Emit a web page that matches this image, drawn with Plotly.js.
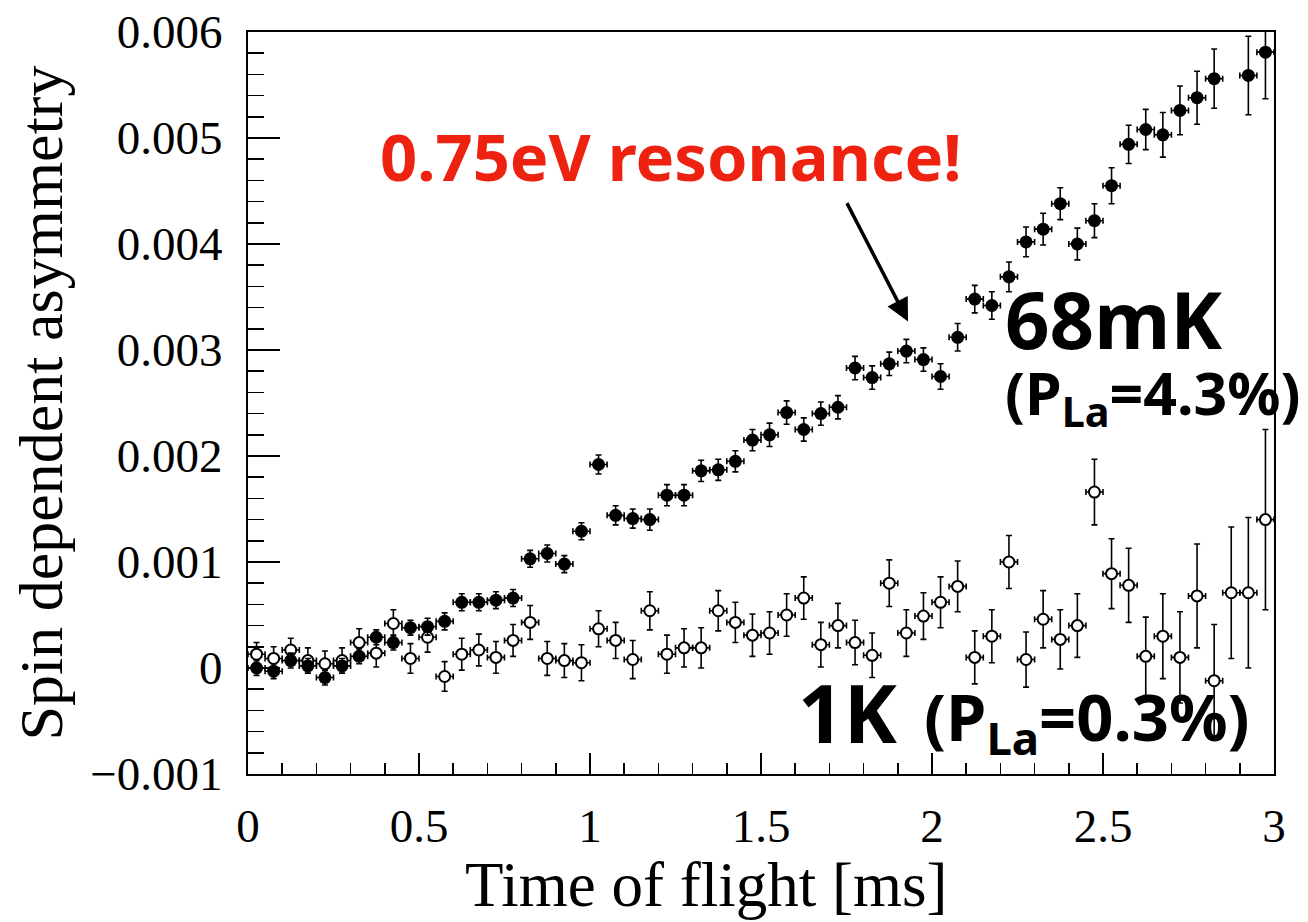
<!DOCTYPE html>
<html>
<head>
<meta charset="utf-8">
<script src="https://cdn.plot.ly/plotly-3.0.1.min.js"></script>
<style>html,body{margin:0;padding:0;background:#fff;}#chart{width:1308px;height:922px;}</style>
</head>
<body>
<div id="chart"></div>
<script>
// Time-of-flight bin centres [ms]
const tof = [0.025,0.075,0.125,0.175,0.225,0.275,0.325,0.375,0.425,0.475,
             0.525,0.575,0.625,0.675,0.725,0.775,0.825,0.875,0.925,0.975,
             1.025,1.075,1.125,1.175,1.225,1.275,1.325,1.375,1.425,1.475,
             1.525,1.575,1.625,1.675,1.725,1.775,1.825,1.875,1.925,1.975,
             2.025,2.075,2.125,2.175,2.225,2.275,2.325,2.375,2.425,2.475,
             2.525,2.575,2.625,2.675,2.725,2.775,2.825,2.875,2.925,2.975];
const binHalfWidth = 0.025;

// 68 mK (filled circles)
const asym68mK = [0.0,-0.00003,0.00007,0.00002,-0.00009,0.00002,0.00011,0.00029,0.00024,0.00038,
                  0.00039,0.00044,0.00062,0.00062,0.00064,0.00066,0.00103,0.00108,0.00098,0.00129,
                  0.00192,0.00144,0.00141,0.00140,0.00163,0.00163,0.00186,0.00187,0.00195,0.00215,
                  0.00220,0.00241,0.00225,0.00240,0.00246,0.00283,0.00274,0.00287,0.00299,0.00291,
                  0.00275,0.00312,0.00348,0.00342,0.00369,0.00402,0.00414,0.00438,0.00400,0.00422,
                  0.00455,0.00494,0.00508,0.00503,0.00526,0.00538,0.00556,null,0.00559,0.00581];
const err68mK = [0.00007,0.00007,0.00007,0.00007,0.00007,0.00007,0.00007,0.00007,0.00007,0.00007,
                 0.00008,0.00008,0.00008,0.00008,0.00008,0.00008,0.00008,0.00008,0.00008,0.00008,
                 0.00009,0.00009,0.00009,0.0001,0.0001,0.0001,0.0001,0.0001,0.0001,0.0001,
                 0.00011,0.00011,0.00011,0.00011,0.00011,0.00011,0.00011,0.00011,0.00011,0.00011,
                 0.00012,0.00013,0.00013,0.00013,0.00014,0.00014,0.00015,0.00015,0.00015,0.00016,
                 0.00017,0.00018,0.00019,0.00021,0.00023,0.00025,0.00028,null,0.00037,0.00044];

// 1 K (open circles)
const asym1K = [0.00013,0.00009,0.00017,0.00007,0.00004,0.00007,0.00024,0.00014,0.00042,0.00009,
                0.00029,-0.00008,0.00013,0.00017,0.00010,0.00026,0.00043,0.00009,0.00007,0.00005,
                0.00037,0.00026,0.00008,0.00054,0.00013,0.00019,0.00019,0.00054,0.00043,0.00031,
                0.00033,0.00050,0.00066,0.00022,0.00040,0.00024,0.00012,0.00080,0.00033,0.00049,
                0.00062,0.00077,0.00010,0.00030,0.00100,0.00008,0.00046,0.00027,0.00040,0.00166,
                0.00089,0.00078,0.00011,0.00030,0.00010,0.00068,-0.00012,0.00071,0.00071,0.00140];
const err1K = [0.00011,0.00011,0.00011,0.00012,0.00012,0.00012,0.00013,0.00013,0.00013,0.00014,
               0.00014,0.00014,0.00015,0.00015,0.00015,0.00015,0.00016,0.00016,0.00016,0.00017,
               0.00017,0.00017,0.00018,0.00018,0.00018,0.00018,0.00019,0.00019,0.00019,0.0002,
               0.0002,0.0002,0.0002,0.00021,0.00021,0.00021,0.00021,0.00022,0.00022,0.00022,
               0.00024,0.00024,0.00025,0.00025,0.00025,0.00026,0.00027,0.00028,0.0003,0.00031,
               0.00033,0.00035,0.00037,0.0004,0.00043,0.00049,0.00053,0.00062,0.00071,0.00085];

// Axis ticks
const xTickVals = [0,0.5,1,1.5,2,2.5,3];
const xTickText = ['0','0.5','1','1.5','2','2.5','3'];
const yTickVals = [-0.001,0,0.001,0.002,0.003,0.004,0.005,0.006];
const yTickText = ['\u22120.001','0','0.001','0.002','0.003','0.004','0.005','0.006'];

const xTitle = 'Time of flight [ms]';
const yTitle = 'Spin dependent asymmetry';

const serif = 'Liberation Serif, Times New Roman, serif';
const sans = 'Noto Sans, Lato, sans-serif';

const errStyleX = {type:'constant', value: binHalfWidth, color:'#000', thickness:1.6, width:3};

const trace1K = {
  x: tof, y: asym1K, type:'scatter', mode:'markers', name:'1K',
  marker:{symbol:'circle', size:11, color:'#fff', line:{color:'#000', width:2}},
  error_y:{type:'data', array: err1K, visible:true, color:'#000', thickness:1.6, width:3},
  error_x: errStyleX
};
const trace68 = {
  x: tof, y: asym68mK, type:'scatter', mode:'markers', name:'68mK',
  marker:{symbol:'circle', size:13, color:'#000'},
  error_y:{type:'data', array: err68mK, visible:true, color:'#000', thickness:1.6, width:3},
  error_x: errStyleX
};

const layout = {
  width:1308, height:922,
  margin:{l:248, r:34, t:32, b:148},
  paper_bgcolor:'#fff', plot_bgcolor:'#fff',
  showlegend:false,
  xaxis:{
    range:[0,3], tickmode:'array', tickvals:xTickVals, ticktext:xTickText,
    ticks:'inside', ticklen:21, tickwidth:1.5, tickcolor:'#000',
    minor:{tickmode:'linear', tick0:0, dtick:0.1, ticks:'inside', ticklen:11, tickwidth:1.5, tickcolor:'#000', showgrid:false},
    showline:true, linewidth:2, linecolor:'#000', mirror:true,
    showgrid:false, zeroline:false,
    tickfont:{family:serif, size:47, color:'#000'},
    ticklabelstandoff:10
  },
  yaxis:{
    range:[-0.001,0.006], tickmode:'array', tickvals:yTickVals, ticktext:yTickText,
    ticks:'inside', ticklen:32, tickwidth:1.5, tickcolor:'#000',
    minor:{tickmode:'linear', tick0:0, dtick:0.0002, ticks:'inside', ticklen:16, tickwidth:1.5, tickcolor:'#000', showgrid:false},
    showline:true, linewidth:2, linecolor:'#000', mirror:true,
    showgrid:false, zeroline:false,
    tickfont:{family:serif, size:47, color:'#000'},
    ticklabelstandoff:14,
    title:{text:yTitle, font:{family:serif, size:62, color:'#000'}, standoff:8}
  },
  annotations:[
    {xref:'paper', yref:'paper', x:0.4464, y:-0.149, xanchor:'center', yanchor:'middle', showarrow:false,
     text:xTitle, font:{family:serif, size:63, color:'#000'}},
    {xref:'x', yref:'y', x:0.381, y:0.00483, xanchor:'left', yanchor:'middle', showarrow:false,
     text:'<b>0.75eV resonance!</b>', font:{family:sans, size:65, color:'#ee2211'}},
    {xref:'x', yref:'y', x:1.930, y:0.00327, axref:'x', ayref:'y', ax:1.749, ay:0.00440,
     showarrow:true, arrowhead:2, arrowsize:1.3, arrowwidth:3.5, arrowcolor:'#000', text:''},
    {xref:'x', yref:'y', x:2.208, y:0.00329, xanchor:'left', yanchor:'middle', showarrow:false,
     text:'<b>68mK</b>', font:{family:sans, size:78, color:'#000'}},
    {xref:'x', yref:'y', x:2.208, y:0.00257, xanchor:'left', yanchor:'middle', showarrow:false,
     text:'<b>(P<sub>La</sub>=4.3%)</b>', font:{family:sans, size:59, color:'#000'}},
    {xref:'x', yref:'y', x:1.602, y:-0.00041, xanchor:'left', yanchor:'middle', showarrow:false,
     text:'<b>1K</b>', font:{family:sans, size:80, color:'#000'}},
    {xref:'x', yref:'y', x:1.972, y:-0.00049, xanchor:'left', yanchor:'middle', showarrow:false,
     text:'<b>(P<sub>La</sub>=0.3%)</b>', font:{family:sans, size:65, color:'#000'}}
  ]
};

Plotly.newPlot('chart', [trace1K, trace68], layout, {displayModeBar:false, staticPlot:true});
</script>
</body>
</html>
